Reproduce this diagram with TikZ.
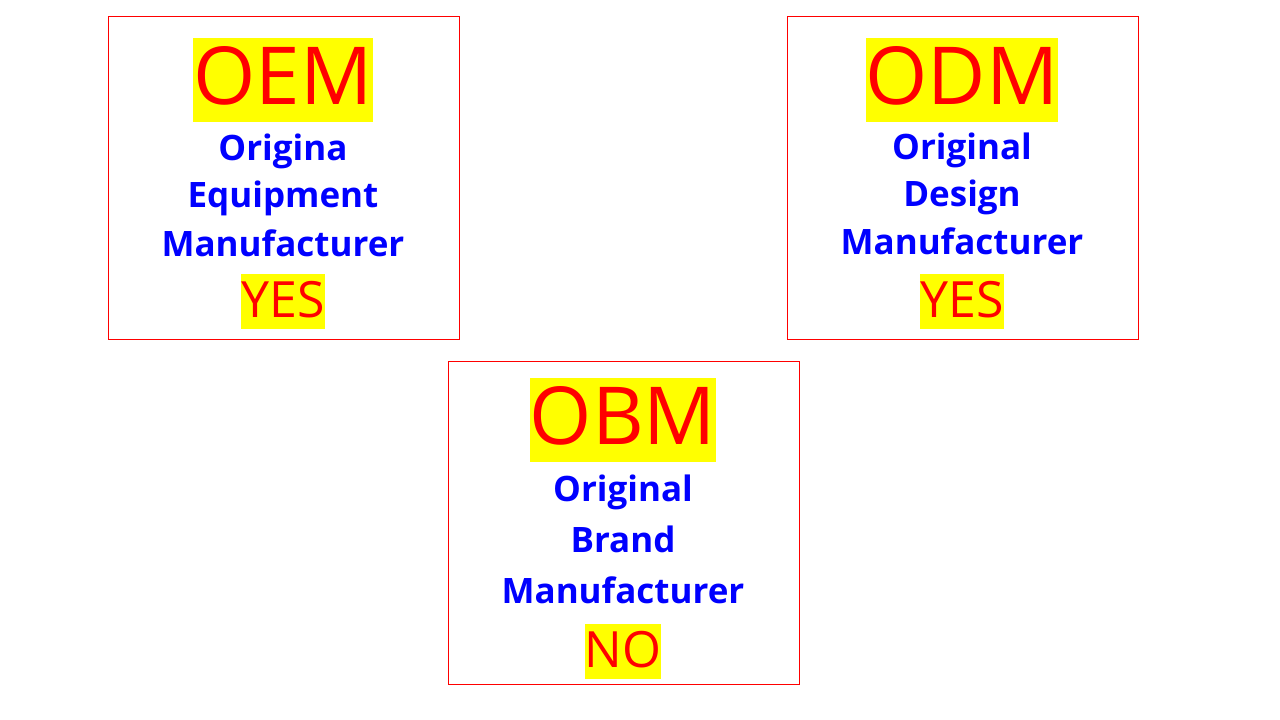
\documentclass[tikz,border=0pt]{standalone}
\usepackage{fontspec}
\setmainfont{Open Sans}
\definecolor{hlyellow}{RGB}{255,255,0}
\definecolor{txtred}{RGB}{255,0,0}
\definecolor{txtblue}{RGB}{0,0,255}
\tikzset{
  card/.style={draw=txtred, line width=1pt},
  acro/.style={fill=hlyellow, text=txtred, inner sep=0pt, anchor=base,
    font=\fontsize{80}{80}\selectfont, text height=66pt, text depth=18pt},
  answer/.style={fill=hlyellow, text=txtred, inner sep=0pt, anchor=base,
    font=\fontsize{50}{50}\selectfont, text height=43pt, text depth=12pt},
  full/.style={text=txtblue, inner sep=0pt, anchor=base,
    font=\bfseries\fontsize{35}{35}\selectfont}
}
\begin{document}
\begin{tikzpicture}[x=1pt,y=-1pt]
\useasboundingbox (0,0) rectangle (1280,720);
% cards
\draw[card] (108,16) rectangle (459,339);
\draw[card] (787,16) rectangle (1138,339);
\draw[card] (448,361) rectangle (799,684);
% OEM
\node[acro] (oem) at (283,104) {OEM};
\node[full] (oem1) at (283,160) {Origina};
\node[full] (oem2) at (283,207) {Equipment};
\node[full] (oem3) at (283,256) {Manufacturer};
\node[answer] (oemy) at (283,317) {YES};
% ODM
\node[acro] (odm) at (962,104) {ODM};
\node[full] (odm1) at (962,159) {Original};
\node[full] (odm2) at (962,206) {Design};
\node[full] (odm3) at (962,254) {Manufacturer};
\node[answer] (odmy) at (962,317) {YES};
% OBM
\node[acro] (obm) at (623,444) {OBM};
\node[full] (obm1) at (623,501) {Original};
\node[full] (obm2) at (623,552) {Brand};
\node[full] (obm3) at (623,603) {Manufacturer};
\node[answer] (obmn) at (623,667) {NO};
\end{tikzpicture}
\end{document}
